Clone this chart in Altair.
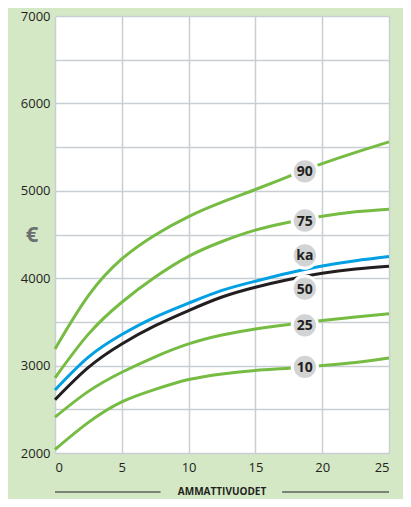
import altair as alt
import pandas as pd

years = [0, 2.5, 5, 7.5, 10, 12.5, 15, 17.5, 20, 22.5, 25]
p90 = [3190, 3800, 4220, 4495, 4705, 4870, 5015, 5165, 5310, 5440, 5560]
p75 = [2860, 3360, 3725, 4013, 4250, 4420, 4550, 4640, 4710, 4760, 4790]
ka = [2720, 3096, 3355, 3554, 3714, 3860, 3966, 4060, 4140, 4200, 4248]
p50 = [2610, 2980, 3248, 3457, 3630, 3785, 3897, 3985, 4057, 4105, 4137]
p25 = [2410, 2705, 2924, 3101, 3248, 3350, 3420, 3470, 3515, 3555, 3592]
p10 = [2040, 2350, 2585, 2728, 2840, 2905, 2945, 2970, 3000, 3035, 3088]

series_names = ["90", "75", "25", "10", "50", "ka"]
series_vals = [p90, p75, p25, p10, p50, ka]
series_colors = ["#76bc43", "#76bc43", "#76bc43", "#76bc43", "#231f20", "#00a0e3"]
series_widths = [3, 3, 3, 3, 3.5, 4]

label_names = ["90", "75", "ka", "50", "25", "10"]
label_x = [18.7, 18.7, 18.7, 18.7, 18.7, 18.7]
label_y = [5223, 4660, 4260, 3880, 3461, 2985]

y_ticks = list(range(2000, 7001, 500))
x_ticks = [0, 5, 10, 15, 20, 25]

rows = []
for name, vals in zip(series_names, series_vals):
    for x, v in zip(years, vals):
        rows.append({"series": name, "year": x, "value": v})
df = pd.DataFrame(rows)

labels = pd.DataFrame({"label": label_names, "year": label_x, "value": label_y})

FONT = "Open Sans"
xscale = alt.Scale(domain=[0, 25], nice=False)
yscale = alt.Scale(domain=[2000, 7000], nice=False)

lines = alt.Chart(df).mark_line(interpolate="natural", strokeCap="butt").encode(
    x=alt.X("year:Q", scale=xscale,
            axis=alt.Axis(values=x_ticks, title=None, grid=True, gridColor="#c9ced3",
                          gridWidth=1.5, domain=False, ticks=False, labelFontSize=13,
                          labelFont=FONT, labelColor="#231f20", labelPadding=8)),
    y=alt.Y("value:Q", scale=yscale,
            axis=alt.Axis(values=y_ticks, title=None, grid=True, gridColor="#c9ced3",
                          gridWidth=1.5, domain=False, ticks=False, labelFontSize=13,
                          labelFont=FONT, labelColor="#231f20", labelPadding=5, format="d",
                          labelExpr="datum.value % 1000 == 0 ? datum.label : ''")),
    color=alt.Color("series:N", scale=alt.Scale(domain=series_names, range=series_colors), legend=None),
    strokeWidth=alt.StrokeWidth("series:N", scale=alt.Scale(domain=series_names, range=series_widths), legend=None),
    order=alt.Order("year:Q"),
)

circles = alt.Chart(labels).mark_circle(size=640, color="#d1d3d4", opacity=1,
                                         stroke="white", strokeWidth=3).encode(
    x=alt.X("year:Q", scale=xscale), y=alt.Y("value:Q", scale=yscale))

texts = alt.Chart(labels).mark_text(font=FONT, fontSize=14, fontWeight="bold",
                                     color="#231f20", baseline="middle", dy=1).encode(
    x=alt.X("year:Q", scale=xscale), y=alt.Y("value:Q", scale=yscale), text="label:N")

euro = alt.Chart(pd.DataFrame({"t": ["€"], "value": [4500]})).mark_text(
    font=FONT, fontSize=22, fontWeight="bold", color="#6d6e71", baseline="middle").encode(
    x=alt.value(-23), y=alt.Y("value:Q", scale=yscale), text="t:N")

title_df = pd.DataFrame({"t": ["AMMATTIVUODET"], "year": [12.5]})
xtitle = alt.Chart(title_df).mark_text(
    font=FONT, fontSize=10, fontWeight="bold", color="#231f20", baseline="middle").encode(
    x=alt.X("year:Q", scale=xscale), y=alt.value(476), text="t:N")

rule_df = pd.DataFrame({"x1": [0, 17.0], "x2": [7.9, 25]})
rules = alt.Chart(rule_df).mark_rule(color="#231f20", strokeWidth=1.2).encode(
    x=alt.X("x1:Q", scale=xscale), x2="x2:Q", y=alt.value(476))

chart = alt.layer(lines, circles, texts, euro, xtitle, rules).properties(
    width=334, height=437,
    background="#d4e8c5",
    padding={"left": 47, "top": 8, "right": 14, "bottom": 46},
    autosize=alt.AutoSizeParams(type="none"),
).configure_view(fill="white", stroke=None)

chart.save("out.html", embed_options={"renderer": "svg", "actions": False})
